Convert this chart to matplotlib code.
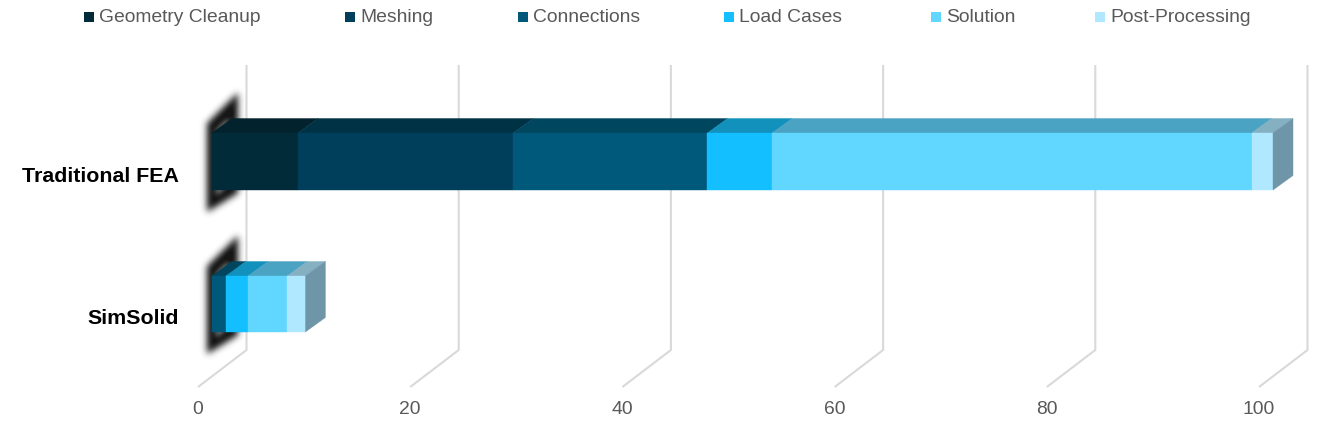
import matplotlib
matplotlib.use("Agg")
import matplotlib.pyplot as plt
import numpy as np
from matplotlib.patches import Polygon, Rectangle
from matplotlib.path import Path

plt.rcParams['font.family'] = ['Liberation Sans', 'DejaVu Sans']

categories = ["Traditional FEA", "SimSolid"]
series_names = ["Geometry Cleanup", "Meshing", "Connections", "Load Cases", "Solution", "Post-Processing"]
geometry = [8.1, 0]
meshing = [20.3, 0]
connections = [18.3, 1.3]
load_cases = [6.1, 2.1]
solution = [45.2, 3.7]
post_processing = [2.0, 1.7]
series_values = [geometry, meshing, connections, load_cases, solution, post_processing]
ticks = [0, 20, 40, 60, 80, 100]

front_colors = ["#022b3a", "#003f5c", "#00587a", "#14bfff", "#61d6ff", "#b0e9ff"]
top_colors = ["#02222e", "#003246", "#00465f", "#1191bc", "#4aa3c2", "#84b0c2"]
side_color = "#6f96a8"
grid_color = "#d9d9d9"
tick_color = "#595959"
legend_marker_x = [84, 345, 518, 724, 931, 1095]

W, H = 1327, 425
PX = 10.61           # pixels per value unit
X0 = 198             # pixel of value 0 on the front floor edge
fig = plt.figure(figsize=(W / 100, H / 100), dpi=100)
ax = fig.add_axes([0, 0, 1, 1])
ax.set_xlim(-X0 / PX, (W - X0) / PX)
ax.set_ylim(H, 0)    # y runs in pixels
ax.axis("off")

dx = 20 / PX         # bar depth (value units)
dy = 14.5            # bar depth (pixels)
gx = 48.5 / PX       # wall depth (value units)
start = 1.32         # bar front starts this far in from the front floor edge
bar_top = [133, 276]
bar_bottom = [190, 332]
label_y = [176.3, 318.3]


def blur(img, sigma):
    r = int(3 * sigma)
    k = np.exp(-0.5 * (np.arange(-r, r + 1) / sigma) ** 2)
    k /= k.sum()
    img = np.apply_along_axis(lambda m: np.convolve(m, k, mode="same"), 0, img)
    return np.apply_along_axis(lambda m: np.convolve(m, k, mode="same"), 1, img)


def region_mask(poly, px, py):
    pts = np.column_stack([px.ravel(), py.ravel()])
    return Path(poly).contains_points(pts).reshape(px.shape).astype(float)


# walls and floor lines
for t in ticks:
    ax.plot([t, t + gx, t + gx], [387, 350, 65], color=grid_color, lw=1.5, zorder=1,
            solid_joinstyle="miter", solid_capstyle="butt")
    ax.text(t, 409.7, str(t), ha="center", va="center", fontsize=13.9, color=tick_color)

# soft dark shadow behind the left end of each bar
for top, bot in zip(bar_top, bar_bottom):
    x1, x2, y1, y2 = 190, 255, top - 60, bot + 45
    px, py = np.meshgrid(np.arange(x1, x2) + 0.5, np.arange(y1, y2) + 0.5)
    outer = region_mask([(207, top - 10), (238, top - 40), (238, bot + 3), (207, bot + 22)], px, py)
    inner = region_mask([(216, top - 2), (229, top - 16), (229, bot - 6), (216, bot + 6)], px, py)
    a = np.clip(1.05 * blur(outer, 3.4) - 0.6 * blur(inner, 3.0), 0, 1)
    rgba = np.zeros(a.shape + (4,))
    rgba[..., :3] = 0.09
    rgba[..., 3] = a
    ax.imshow(rgba, extent=[(x1 - X0) / PX, (x2 - X0) / PX, y2, y1], aspect="auto",
              interpolation="bilinear", zorder=2)
ax.set_xlim(-X0 / PX, (W - X0) / PX)
ax.set_ylim(H, 0)

# 3-D stacked bars
for c in range(len(categories)):
    left = start
    top, bot = bar_top[c], bar_bottom[c]
    for s, vals in enumerate(series_values):
        v = vals[c]
        if v <= 0:
            continue
        right = left + v
        ax.add_patch(Polygon([(left, top), (left + dx, top - dy), (right + dx, top - dy), (right, top)],
                             closed=True, facecolor=top_colors[s], edgecolor=top_colors[s], lw=0.3, zorder=3))
        ax.add_patch(Rectangle((left, top), v, bot - top, facecolor=front_colors[s],
                               edgecolor=front_colors[s], lw=0.3, zorder=4))
        left = right
    ax.add_patch(Polygon([(left, top), (left + dx, top - dy), (left + dx, bot - dy), (left, bot)],
                         closed=True, facecolor=side_color, edgecolor=side_color, lw=0.3, zorder=4))
    ax.text(-X0 / PX + 179 / PX, label_y[c], categories[c], ha="right", va="center",
            fontsize=15.4, fontweight="bold", color="#000000", zorder=5)

# legend
for name, col, mx in zip(series_names, front_colors, legend_marker_x):
    x = -X0 / PX + mx / PX
    ax.add_patch(Rectangle((x, 12), 10 / PX, 10, facecolor=col, edgecolor="none", zorder=5))
    ax.text(x + 15 / PX, 17.8, name, ha="left", va="center", fontsize=13.9, color=tick_color, zorder=5)

fig.savefig("out.png", dpi=100, facecolor="white")
